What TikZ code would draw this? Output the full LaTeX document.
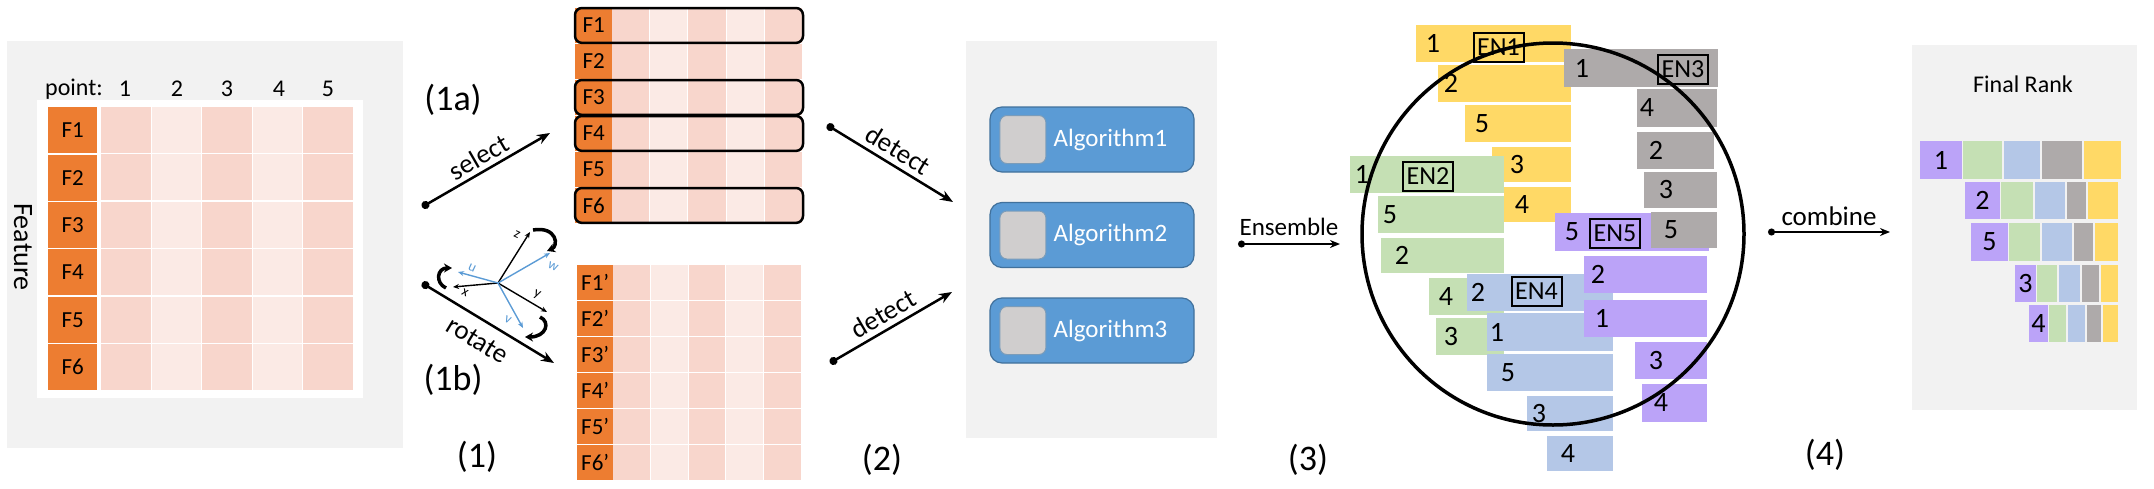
\documentclass[tikz,border=0pt]{standalone}
\usepackage{fontspec}
\setmainfont{Carlito}
\usetikzlibrary{arrows.meta,positioning,calc}
\definecolor{PanelClr}{HTML}{F2F2F2}
\definecolor{OrangeClr}{HTML}{ED7D31}
\definecolor{PinkClr}{HTML}{F8D6CC}
\definecolor{LightPinkClr}{HTML}{FBEAE5}
\definecolor{AlgoClr}{HTML}{5B9BD5}
\definecolor{AlgoLineClr}{HTML}{41719C}
\definecolor{KeyClr}{HTML}{D0CECE}
\definecolor{YellowClr}{HTML}{FFD966}
\definecolor{GreenClr}{HTML}{C5E0B4}
\definecolor{BlueClr}{HTML}{B4C7E7}
\definecolor{PurpleClr}{HTML}{BBA3F8}
\definecolor{GrayClr}{HTML}{AEAAAA}
\definecolor{AxisClr}{HTML}{5B9BD5}

\newcommand{\fsz}[1]{\fontsize{#1}{#1}\selectfont}

\newcommand{\ftable}[8]{%
  \foreach \i in {1,...,6}{%
    \node[fcell, minimum width=#3, minimum height={#7-1.5}] (#1\i) at (#2,{#5+(\i-1)*#7}) {F\i#8};
    \foreach \j/\cl in {1/PinkClr,2/LightPinkClr,3/PinkClr,4/LightPinkClr,5/PinkClr}
      \fill[\cl] ({#4+(\j-1)*#6},{#5+(\i-1)*#7}) rectangle +({#6-1},{#7-1.5});
  }}

\newcommand{\enbars}[3]{%
  \foreach \xa/\ya/\xb/\yb/\lx/\lb [count=\k] in {#3}{%
    \fill[#1] (\xa,\ya) rectangle (\xb,\yb);
    \node[barlbl] (#2\k) at (\lx,{(\ya+\yb)/2}) {\lb};}}

\newcommand{\finalrow}[9]{%
  \fill[PurpleClr] (#4,#1) rectangle (#5,#2);
  \fill[GreenClr] ({#5+1},#1) rectangle ({#6-1},#2);
  \fill[BlueClr] ({#6+1},#1) rectangle ({#7-1},#2);
  \fill[GrayClr] ({#7+1},#1) rectangle ({#8-1},#2);
  \fill[YellowClr] ({#8+1},#1) rectangle ({#9-1},#2);
  \node[barlbl] (rank#3) at ({(#4+#5)/2},{(#1+#2)/2}) {#3};}

\tikzset{
  fcell/.style={fill=OrangeClr, inner sep=0pt, font=\fsz{23}, anchor=north west},
  selbox/.style={line width=2.5pt, rounded corners=7pt},
  link/.style={line width=2.5pt, {Circle[length=8pt]}-{Stealth[length=13pt,width=10pt]}},
  thinlink/.style={line width=1.8pt, {Circle[length=7pt]}-{Stealth[length=10pt,width=8pt]}},
  steplbl/.style={font=\fsz{36}},
  arrlbl/.style={font=\fsz{27}},
  algo/.style={fill=AlgoClr, draw=AlgoLineClr, line width=1.2pt, rounded corners=12pt,
    minimum width=204pt, minimum height=65pt},
  keybox/.style={fill=KeyClr, draw=AlgoLineClr!70, line width=1pt, rounded corners=7pt,
    minimum width=46pt, minimum height=48pt, inner sep=0pt},
  algotxt/.style={text=white, font=\fsz{25}, inner sep=0pt},
  barlbl/.style={font=\fsz{28}, inner sep=0pt},
  enbox/.style={draw, line width=2pt, font=\fsz{26}, minimum width=50pt, minimum height=29pt, inner sep=0pt},
  axisarr/.style={line width=1.4pt, -{Stealth[length=6pt,width=5pt]}},
  axlbl/.style={font=\fsz{14}, rotate=-25, inner sep=0pt},
  spinarr/.style={line width=3.5pt, -{Stealth[length=8pt,width=9pt]}},
}

\begin{document}
\begin{tikzpicture}[x=1pt,y=-1pt]
\useasboundingbox (0,0) rectangle (2154,488);

% (1) data
\fill[PanelClr] (7,41) rectangle (403,448);
\fill[white] (37,100) rectangle (363,398);
\ftable{F}{48}{49}{101}{107}{50.5}{47.4}{}
\node[font=\fsz{24}] (point) at (74,89) {point:};
\foreach \j/\x in {1/125,2/177,3/227,4/279,5/328}
  \node[font=\fsz{24}] (col\j) at (\x,89) {\j};
\node[font=\fsz{28}, rotate=-90] (feat) at (23,247) {Feature};

\ftable{S}{575}{37}{612}{8}{38.2}{36}{}
\foreach \i in {1,3,4,6}
  \draw[selbox] (S\i.north west) rectangle ([xshift=228pt]S\i.south west);
\ftable{R}{577}{36}{613}{265}{37.8}{36}{’}

\coordinate (selA) at (422,207);
\coordinate (selB) at (550,133);
\coordinate (rotA) at (422,283);
\coordinate (rotB) at (554,363);
\draw[link] (selA) -- node[arrlbl, sloped, above=1pt] (sellbl) {select} (selB);
\draw[link] (rotA) -- node[arrlbl, sloped, below=7pt] (rotlbl) {rotate} (rotB);
\node[steplbl] (s1a) at (453,100) {(1a)};
\node[steplbl] (s1b) at (453,380) {(1b)};
\node[steplbl] (s1) at (477,457) {(1)};

\coordinate (ax) at (498,283);
\coordinate (axz) at (530,232);
\coordinate (axx) at (453,287);
\coordinate (axy) at (547,312);
\coordinate (axu) at (458,272);
\coordinate (axw) at (550,253);
\coordinate (axv) at (523,328);
\draw[axisarr] (ax) -- (axz);
\draw[axisarr] (ax) -- (axx);
\draw[axisarr] (ax) -- (axy);
\draw[axisarr, AxisClr] (ax) -- (axu);
\draw[axisarr, AxisClr] (ax) -- (axw);
\draw[axisarr, AxisClr] (ax) -- (axv);
\node[axlbl] (lz) at (517,235) {z};
\node[axlbl] (lx) at (465,293) {x};
\node[axlbl] (ly) at (537,295) {y};
\node[axlbl, AxisClr] (lu) at (472,268) {u};
\node[axlbl, AxisClr] (lw) at (553,267) {w};
\node[axlbl, AxisClr] (lv) at (508,320) {v};
\draw[spinarr] (533,230) .. controls (557,226) and (559,246) .. (547,251);
\draw[spinarr] (446,288) .. controls (435,283) and (437,268) .. (452,268);
\draw[spinarr] (540,317) .. controls (551,322) and (546,337) .. (525,337);

% (2) detect
\coordinate (detA) at (827,125);
\coordinate (detB) at (953,202);
\coordinate (detC) at (830,363);
\coordinate (detD) at (952,292);
\draw[link] (detA) -- node[arrlbl, sloped, above=2pt] (detlbl1) {detect} (detB);
\draw[link] (detC) -- node[arrlbl, sloped, above=2pt] (detlbl2) {detect} (detD);
\node[steplbl] (s2) at (882,460) {(2)};

\fill[PanelClr] (966,41) rectangle (1217,438);
\foreach \i/\y in {1/139.5,2/235,3/330.5}{
  \node[algo] (algo\i) at (1092,\y) {};
  \node[keybox, right=10pt of algo\i.west] (key\i) {};
  \node[algotxt, right=7pt of key\i] (alg\i) {Algorithm\i};
}

% (3) ensemble
\coordinate (ensA) at (1238,244);
\coordinate (ensB) at (1340,244);
\draw[thinlink] (ensA) -- node[arrlbl, font=\fsz{25}, above=4pt] (enslbl) {Ensemble} (ensB);
\node[steplbl] (s3) at (1308,460) {(3)};

\enbars{YellowClr}{yel}{1416/25/1571/62/1433/1, 1438/65/1571/102/1451/2,
  1465/105/1571/142/1482/5, 1492/147/1571/182/1517/3, 1504/187/1571/222/1522/4}
\enbars{GreenClr}{grn}{1350/156/1504/193/1362/1, 1378/196/1504/233/1390/5,
  1381/238/1504/273/1402/2, 1429/278/1504/315/1446/4, 1436/318/1504/355/1451/3}
\enbars{BlueClr}{blu}{1467/274/1613/311/1478/2, 1487/313/1613/351/1497/1,
  1487/354/1613/391/1508/5, 1527/396/1613/431/1539/3, 1547/436/1613/471/1568/4}
\enbars{PurpleClr}{prp}{1555/213/1709/251/1572/5, 1584/256/1707/293/1598/2,
  1584/300/1707/337/1602/1, 1635/342/1707/379/1656/3, 1642/384/1707/422/1661/4}
\enbars{GrayClr}{gry}{1564/49/1718/87/1582/1, 1637/89/1717/127/1647/4,
  1637/132/1714/169/1656/2, 1644/172/1717/208/1666/3, 1651/212/1717/248/1671/5}
\foreach \n/\x/\y in {1/1498.5/47.5,2/1428/176.5,3/1683/69.5,4/1536.5/291.5,5/1615/233.5}
  \node[enbox] (en\n) at (\x,\y) {EN\n};
\coordinate (ctr) at (1553,234);
\draw[line width=3.5pt] (ctr) circle[radius=191pt];

% (4) combine
\coordinate (cmbA) at (1768,232);
\coordinate (cmbB) at (1890,232);
\draw[thinlink] (cmbA) -- node[arrlbl, above=2pt] (cmblbl) {combine} (cmbB);
\node[steplbl] (s4) at (1825,455) {(4)};

\fill[PanelClr] (1912,45) rectangle (2137,410);
\node[font=\fsz{24}] (rank) at (2023,84) {Final Rank};
\finalrow{141}{179}{1}{1920}{1962}{2003}{2041}{2083}{2122}
\finalrow{182}{219}{2}{1965}{2000}{2034}{2066}{2087}{2119}
\finalrow{223}{261}{5}{1971}{2008}{2041}{2073}{2094}{2119}
\finalrow{265}{302}{3}{2015}{2036}{2058}{2081}{2100}{2119}
\finalrow{305}{342}{4}{2029}{2048}{2067}{2086}{2102}{2119}
\end{tikzpicture}
\end{document}
